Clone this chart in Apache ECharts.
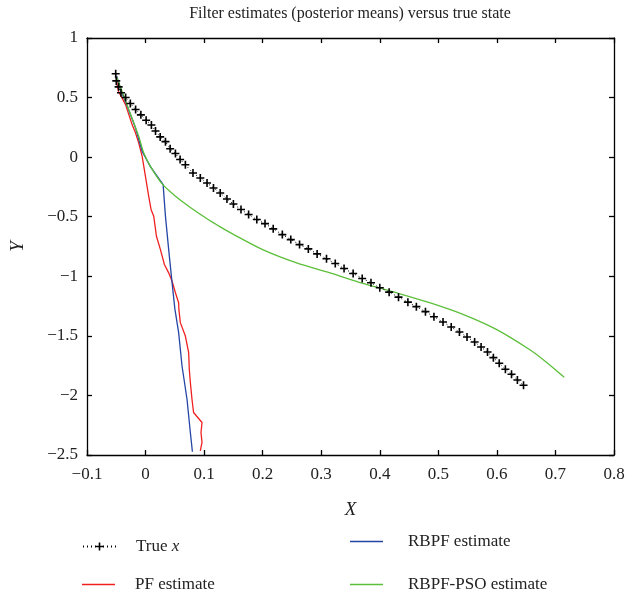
<!DOCTYPE html>
<html><head><meta charset="utf-8">
<script src="https://cdn.jsdelivr.net/npm/echarts@6/dist/echarts.min.js"></script>
<style>html,body{margin:0;padding:0;background:#fff}#c{width:628px;height:596px}</style>
</head><body><div id="c"></div>
<script>
const trueX = [-0.051,-0.050,-0.046,-0.042,-0.034,-0.026,-0.017,-0.008,0.001,0.010,0.017,0.025,0.034,0.042,0.051,0.059,0.068,0.081,0.0935,0.105,0.116,0.1275,0.139,0.150,0.163,0.176,0.190,0.204,0.218,0.2336,0.248,0.263,0.278,0.293,0.309,0.324,0.339,0.3545,0.370,0.385,0.400,0.416,0.432,0.448,0.4625,0.478,0.4925,0.508,0.522,0.536,0.549,0.562,0.573,0.584,0.594,0.604,0.6145,0.625,0.635,0.6455];
const trueY = [0.70,0.64,0.59,0.54,0.50,0.45,0.40,0.355,0.31,0.27,0.22,0.17,0.13,0.07,0.03,-0.02,-0.064,-0.133,-0.175,-0.217,-0.259,-0.301,-0.351,-0.393,-0.44,-0.482,-0.524,-0.558,-0.602,-0.65,-0.692,-0.734,-0.770,-0.812,-0.853,-0.893,-0.935,-0.977,-1.018,-1.054,-1.096,-1.133,-1.175,-1.217,-1.255,-1.297,-1.339,-1.384,-1.426,-1.468,-1.510,-1.552,-1.594,-1.636,-1.683,-1.730,-1.78,-1.822,-1.870,-1.915];

const pfX = [-0.0495,-0.0487,-0.046,-0.041,-0.034,-0.0228,-0.0172,-0.0116,-0.0058,-0.0002,0.0054,0.0095,0.014,0.0186,0.0254,0.0322,0.0395,0.0453,0.051,0.0565,0.0569,0.0594,0.068,0.0736,0.0747,0.0765,0.0793,0.082,0.0964,0.0947,0.0964,0.0935];
const pfY = [0.682,0.606,0.548,0.506,0.439,0.271,0.204,0.118,0.006,-0.162,-0.329,-0.441,-0.497,-0.664,-0.776,-0.901,-0.971,-1.041,-1.138,-1.222,-1.278,-1.389,-1.502,-1.641,-1.781,-1.892,-2.032,-2.143,-2.227,-2.311,-2.394,-2.465];

const rbpfX = [-0.0495,-0.041,-0.029,-0.0172,-0.0058,0.0083,0.030,0.034,0.0395,0.0453,0.050,0.0565,0.0623,0.0708,0.0765,0.080];
const rbpfY = [0.682,0.548,0.397,0.246,0.048,-0.080,-0.231,-0.497,-0.776,-1.055,-1.272,-1.473,-1.753,-2.032,-2.311,-2.473];

const psoX = [-0.0495,-0.036,-0.020,-0.0116,-0.003,0.0083,0.028,0.048,0.0765,0.105,0.1275,0.1446,0.201,0.258,0.315,0.3715,0.428,0.485,0.542,0.599,0.655,0.684,0.715];
const psoY = [0.673,0.497,0.286,0.173,0.034,-0.078,-0.223,-0.315,-0.423,-0.517,-0.585,-0.633,-0.778,-0.887,-0.971,-1.060,-1.138,-1.222,-1.320,-1.446,-1.613,-1.719,-1.848];

const xTicks = {min: -0.1, max: 0.8, interval: 0.1};
const yTicks = {min: -2.5, max: 1, interval: 0.5};

const zip = (a, b) => a.map((v, i) => [v, b[i]]);
const minus = v => String(+v.toFixed(2)).replace('-', '\u2212');
const FONT = "'Liberation Serif', 'DejaVu Serif', serif";
const plusPath = 'path://M-0.2,-1H0.2V-0.2H1V0.2H0.2V1H-0.2V0.2H-1V-0.2H-0.2Z';
const lineIcon = 'path://M0,0H30V1.4H0Z';

const chart = echarts.init(document.getElementById('c'), null, {renderer: 'canvas'});
const axisCommon = {
  axisLine: {show: true, onZero: false, lineStyle: {color: '#000', width: 1.3}},
  axisTick: {show: true, inside: true, length: 5, lineStyle: {color: '#000', width: 1.3}},
  splitLine: {show: false}
};
const legendStyle = pad => ({
  orient: 'vertical', itemWidth: 33, itemHeight: 10, itemGap: 0, padding: 0,
  textStyle: {fontFamily: FONT, fontSize: 17, color: '#222', padding: [0, 0, 0, pad],
    rich: {i: {fontFamily: FONT, fontSize: 17, fontStyle: 'italic', color: '#222'}}}
});
chart.setOption({
  animation: false,
  backgroundColor: '#fff',
  grid: {left: 87, right: 14, top: 38, bottom: 141},
  graphic: [{type: 'text', x: 350, y: 6, style: {text: 'Filter estimates (posterior means) versus true state', font: '16px ' + FONT, fill: '#222', textAlign: 'center'}}],
  xAxis: [
    Object.assign({type: 'value', min: xTicks.min, max: xTicks.max, interval: xTicks.interval, position: 'bottom',
      name: 'X', nameLocation: 'middle', nameGap: 45,
      nameTextStyle: {fontFamily: FONT, fontSize: 19, fontStyle: 'italic', color: '#222'},
      axisLabel: {formatter: minus, fontFamily: FONT, fontSize: 17, color: '#222', margin: 11}}, axisCommon),
    Object.assign({type: 'value', min: xTicks.min, max: xTicks.max, interval: xTicks.interval, position: 'top',
      axisLabel: {show: false}}, axisCommon)
  ],
  yAxis: [
    Object.assign({type: 'value', min: yTicks.min, max: yTicks.max, interval: yTicks.interval, position: 'left',
      name: 'Y', nameLocation: 'middle', nameGap: 60,
      nameTextStyle: {fontFamily: FONT, fontSize: 19, fontStyle: 'italic', color: '#222'},
      axisLabel: {formatter: minus, fontFamily: FONT, fontSize: 17, color: '#222', margin: 9}}, axisCommon),
    Object.assign({type: 'value', min: yTicks.min, max: yTicks.max, interval: yTicks.interval, position: 'right',
      axisLabel: {show: false}}, axisCommon)
  ],
  legend: [
    Object.assign(legendStyle(15), {left: 82, top: 538, data: ['True x'],
      formatter: () => 'True {i|x}'}),
    Object.assign(legendStyle(15), {left: 82, top: 576, data: [{name: 'PF estimate', icon: lineIcon}]}),
    Object.assign(legendStyle(20), {left: 350, top: 533, data: [{name: 'RBPF estimate', icon: lineIcon}]}),
    Object.assign(legendStyle(20), {left: 350, top: 576, data: [{name: 'RBPF-PSO estimate', icon: lineIcon}]})
  ],
  series: [
    {name: 'True x', type: 'line', data: zip(trueX, trueY), symbol: plusPath, symbolSize: 8, showSymbol: true,
      itemStyle: {color: '#000'}, lineStyle: {color: '#000', width: 1, type: [1, 3]}, z: 5},
    {name: 'PF estimate', type: 'line', data: zip(pfX, pfY), showSymbol: false,
      itemStyle: {color: '#f02020'}, lineStyle: {color: '#f02020', width: 1.3}},
    {name: 'RBPF estimate', type: 'line', data: zip(rbpfX, rbpfY), showSymbol: false,
      itemStyle: {color: '#2545a5'}, lineStyle: {color: '#2545a5', width: 1.3}},
    {name: 'RBPF-PSO estimate', type: 'line', data: zip(psoX, psoY), showSymbol: false, smooth: 0.3,
      itemStyle: {color: '#5cbf3a'}, lineStyle: {color: '#5cbf3a', width: 1.3}}
  ]
});
</script></body></html>
